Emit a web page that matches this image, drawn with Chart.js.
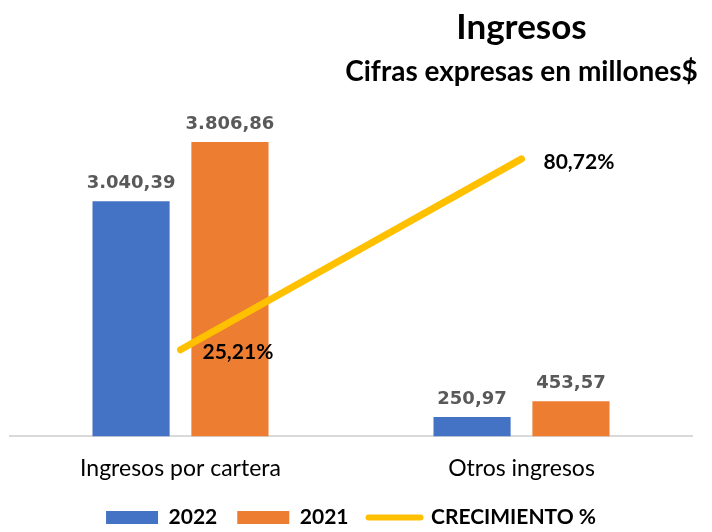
<!DOCTYPE html>
<html>
<head>
<meta charset="utf-8">
<script src="https://cdn.jsdelivr.net/npm/chart.js@4"></script>
<style>
  html, body { margin: 0; padding: 0; background: #fff; }
  #wrap { width: 712px; height: 532px; }
</style>
</head>
<body>
<div id="wrap"><canvas id="chart" width="712" height="532"></canvas></div>
<script>
// chart values
const categories = ['Ingresos por cartera', 'Otros ingresos'];
const values2022 = [3040.39, 250.97];
const values2021 = [3806.86, 453.57];
const growth = [25.21, 80.72];
const titleLines = ['Ingresos', 'Cifras expresas en millones$'];

function fmt(n, suffix) {
  const parts = n.toFixed(2).split('.');
  const int = parts[0].replace(/\B(?=(\d{3})+(?!\d))/g, '.');
  return int + ',' + parts[1] + (suffix || '');
}

// value labels above bars, percent labels right of line points
const labelsPlugin = {
  id: 'labels',
  afterDatasetsDraw(chart) {
    const ctx = chart.ctx;
    ctx.save();
    [0, 1].forEach(di => {
      const meta = chart.getDatasetMeta(di);
      ctx.font = 'bold 18px "DejaVu Sans"';
      ctx.fillStyle = '#595959';
      ctx.textAlign = 'center';
      ctx.textBaseline = 'middle';
      meta.data.forEach((bar, i) => {
        ctx.fillText(fmt(chart.data.datasets[di].data[i]), bar.x, bar.y - 18);
      });
    });
    const lm = chart.getDatasetMeta(2);
    ctx.font = 'bold 21px Lato';
    ctx.fillStyle = '#000';
    ctx.textAlign = 'left';
    lm.data.forEach((pt, i) => {
      ctx.fillText(fmt(growth[i], '%'), pt.x + 22, pt.y + 3);
    });
    ctx.restore();
  }
};

// title centred over the second category
const titlePlugin = {
  id: 'topTitle',
  afterDraw(chart) {
    const ctx = chart.ctx;
    const x = chart.scales.x.getPixelForValue(1);
    ctx.save();
    ctx.fillStyle = '#000';
    ctx.textAlign = 'center';
    ctx.textBaseline = 'middle';
    ctx.font = 'bold 35px Lato';
    ctx.fillText(titleLines[0], x, 28);
    ctx.font = 'bold 28px Lato';
    ctx.fillText(titleLines[1], x, 72);
    ctx.restore();
  }
};

new Chart(document.getElementById('chart'), {
  type: 'bar',
  data: {
    labels: categories,
    datasets: [
      {
        label: '2022',
        data: values2022,
        backgroundColor: '#4472C4',
        barPercentage: 0.78,
        categoryPercentage: 0.58,
        yAxisID: 'y'
      },
      {
        label: '2021',
        data: values2021,
        backgroundColor: '#ED7D31',
        barPercentage: 0.78,
        categoryPercentage: 0.58,
        yAxisID: 'y'
      },
      {
        type: 'line',
        label: 'CRECIMIENTO %',
        data: growth,
        borderColor: '#FFC000',
        backgroundColor: '#FFC000',
        borderWidth: 7,
        borderCapStyle: 'round',
        pointRadius: 0,
        order: -1,
        yAxisID: 'y1'
      }
    ]
  },
  options: {
    responsive: false,
    animation: false,
    layout: { padding: { top: 127, left: 10, right: 20, bottom: -6 } },
    scales: {
      x: {
        grid: { display: false },
        border: { display: true, color: '#D9D9D9', width: 2 },
        ticks: { color: '#000', font: { family: 'Lato', size: 23 }, padding: 10 },
        afterFit(scale) { scale.height -= 5; }
      },
      y: { display: false, min: 0, max: 4000 },
      y1: { display: false, min: 0, max: 90 }
    },
    plugins: {
      tooltip: { enabled: false },
      legend: {
        position: 'bottom',
        labels: {
          color: '#000',
          font: { family: 'Lato', size: 21, weight: 'bold' },
          usePointStyle: true,
          pointStyleWidth: 52,
          boxHeight: 13,
          padding: 20,
          generateLabels(chart) {
            return chart.data.datasets.map((ds, i) => ({
              text: ds.label,
              datasetIndex: i,
              fillStyle: ds.backgroundColor,
              strokeStyle: ds.borderColor || ds.backgroundColor,
              lineWidth: ds.type === 'line' ? 6 : 0,
              lineCap: 'round',
              pointStyle: ds.type === 'line' ? 'line' : 'rect',
              fontColor: '#000',
              hidden: false
            }));
          }
        }
      }
    }
  },
  plugins: [labelsPlugin, titlePlugin]
});
</script>
</body>
</html>
